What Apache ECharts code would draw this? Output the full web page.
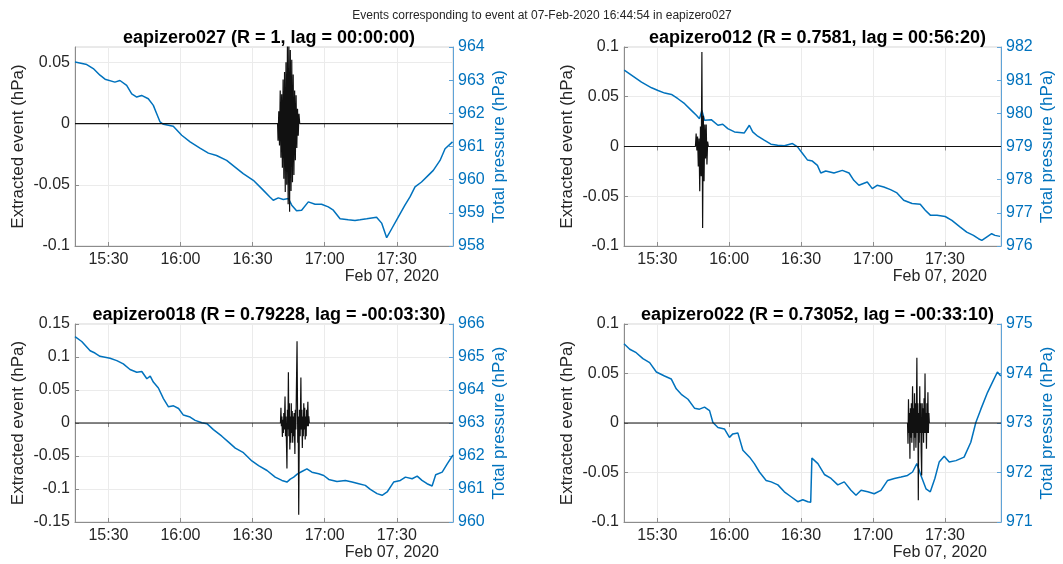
<!DOCTYPE html>
<html><head><meta charset="utf-8">
<script src="https://cdn.jsdelivr.net/npm/echarts@6/dist/echarts.min.js"></script>
<style>html,body{margin:0;padding:0;background:#fff}#c{width:1063px;height:564px}</style>
</head><body><div id="c"></div><script>
// time is minutes since midnight, 07-Feb-2020
const xMin = 916.1, xMax = 1073.4;
const xTicks = [930, 960, 990, 1020, 1050];
const suptitle = 'Events corresponding to event at 07-Feb-2020 16:44:54 in eapizero027';
const panelTitles = [
  'eapizero027 (R = 1, lag = 00:00:00)',
  'eapizero012 (R = 0.7581, lag = 00:56:20)',
  'eapizero018 (R = 0.79228, lag = -00:03:30)',
  'eapizero022 (R = 0.73052, lag = -00:33:10)'
];
const dateLabel = 'Feb 07, 2020';
const leftRanges = [[-0.1, 0.0625], [-0.1, 0.1], [-0.15, 0.15], [-0.1, 0.1]];
const leftTicks = [[-0.1, -0.05, 0, 0.05], [-0.1, -0.05, 0, 0.05, 0.1], [-0.15, -0.1, -0.05, 0, 0.05, 0.1, 0.15], [-0.1, -0.05, 0, 0.05, 0.1]];
const rightTicks = [[958, 959, 960, 961, 962, 963, 964], [976, 977, 978, 979, 980, 981, 982], [960, 961, 962, 963, 964, 965, 966], [971, 972, 973, 974, 975]];

// Total pressure (hPa)
const p027T = [916.1,921.0,923.7,926.5,928.6,932.7,934.8,937.6,939.7,941.8,943.8,946.6,948.7,950.1,951.5,952.9,957.0,960.5,964.0,968.1,971.6,975.0,979.2,982.7,986.1,990.3,993.8,997.2,998.6,1000.7,1002.8,1004.9,1006.3,1008.3,1010.4,1013.2,1016.0,1018.7,1021.5,1023.6,1026.4,1029.8,1032.6,1034.7,1037.5,1041.6,1043.7,1045.8,1047.9,1050.6,1053.4,1055.5,1057.6,1060.3,1063.1,1065.2,1068.0,1070.1,1073.2];
const p027V = [963.55,963.47,963.35,963.15,963.03,962.94,962.99,962.84,962.59,962.49,962.54,962.44,962.24,961.99,961.74,961.67,961.61,961.34,961.14,960.95,960.80,960.73,960.58,960.38,960.18,959.98,959.73,959.48,959.38,959.45,959.40,959.43,959.23,959.06,959.08,959.33,959.26,959.26,959.18,959.08,958.82,958.79,958.77,958.79,958.82,958.87,958.69,958.25,958.52,958.87,959.23,959.48,959.78,959.93,960.13,960.28,960.58,960.93,961.14];

const p012T = [916.2,919.2,923.4,927.6,930.3,933.1,935.9,938.6,941.4,944.2,946.3,947.6,948.6,949.7,952.5,955.3,957.3,959.4,962.2,966.3,968.4,969.8,971.9,974.6,977.4,980.2,983.0,986.4,988.5,990.6,992.7,994.7,996.8,998.2,1000.3,1003.7,1007.2,1010.0,1012.0,1014.1,1017.6,1019.7,1021.7,1024.5,1027.3,1030.0,1032.8,1036.3,1039.7,1041.8,1043.9,1046.7,1050.1,1052.9,1056.4,1059.1,1061.9,1064.0,1065.4,1067.4,1069.5,1070.9,1073.0];
const p012V = [981.30,981.15,980.94,980.77,980.69,980.61,980.57,980.44,980.29,980.09,979.94,979.84,980.09,979.79,979.81,979.64,979.67,979.54,979.44,979.41,979.64,979.44,979.31,979.19,979.07,979.04,979.02,979.09,978.99,978.79,978.59,978.56,978.43,978.20,978.26,978.20,978.28,978.20,977.98,977.83,977.93,977.73,977.83,977.78,977.70,977.60,977.38,977.28,977.26,977.08,976.93,976.93,976.89,976.77,976.57,976.42,976.32,976.22,976.17,976.27,976.37,976.32,976.29];

const p018T = [916.1,918.9,922.4,924.4,926.5,930.7,933.5,936.2,939.0,941.8,943.9,946.0,947.4,948.7,950.8,952.9,955.0,957.1,959.2,961.2,964.0,966.1,968.9,971.0,973.7,977.2,980.0,982.8,986.2,989.7,992.5,996.0,999.4,1002.2,1004.3,1005.7,1007.1,1008.7,1010.5,1012.6,1014.7,1017.5,1019.6,1021.7,1025.1,1028.6,1031.4,1034.2,1036.9,1039.0,1041.8,1043.9,1046.0,1048.7,1051.5,1053.6,1056.4,1058.5,1060.5,1062.6,1064.7,1066.2,1068.9,1071.0,1073.4];
const p018V = [965.62,965.47,965.19,965.12,965.02,964.96,964.89,964.79,964.62,964.54,964.56,964.34,964.42,964.24,964.06,963.74,963.49,963.52,963.44,963.24,963.18,963.08,963.01,962.98,962.80,962.60,962.42,962.24,962.10,961.85,961.71,961.56,961.36,961.26,961.21,961.30,961.36,961.46,961.53,961.61,961.51,961.46,961.41,961.29,961.23,961.26,961.21,961.16,961.11,960.99,960.86,960.81,960.91,961.21,961.26,961.36,961.31,961.39,961.26,961.16,961.09,961.43,961.51,961.76,962.03];

const p022T = [916.1,918.5,921.2,924.0,926.8,929.6,933.0,935.8,937.9,940.0,942.8,945.5,947.6,949.7,951.8,953.2,955.3,958.0,960.1,961.5,963.6,965.7,968.5,970.5,972.6,975.4,977.5,980.3,983.0,985.8,988.6,990.7,992.8,994.0,994.5,997.0,999.7,1002.5,1005.3,1008.0,1010.8,1012.9,1015.0,1017.8,1020.5,1023.3,1026.1,1028.9,1031.7,1034.4,1036.5,1038.3,1040.0,1042.1,1043.9,1045.8,1047.6,1049.7,1051.8,1054.6,1058.0,1060.8,1062.9,1065.0,1067.8,1069.8,1071.9,1073.3];
const p022V = [974.60,974.49,974.42,974.30,974.22,974.03,973.95,973.89,973.69,973.58,973.48,973.30,973.28,973.32,973.25,973.01,972.91,972.88,972.71,972.78,972.80,972.45,972.31,972.18,972.01,971.84,971.81,971.75,971.61,971.51,971.41,971.45,971.41,971.40,972.29,972.18,971.96,971.88,971.75,971.81,971.64,971.54,971.64,971.61,971.57,971.64,971.84,971.88,971.91,971.94,972.01,972.18,971.94,971.67,971.61,971.88,972.21,972.33,972.21,972.24,972.31,972.61,973.01,973.28,973.62,973.82,974.03,973.95];

// Extracted event (hPa)
const e027T = [916.1,1000.4,1000.6,1000.9,1001.2,1001.5,1001.8,1002.1,1002.4,1002.7,1003.0,1003.3,1003.6,1003.9,1004.2,1004.5,1004.8,1005.1,1005.4,1005.7,1006.0,1006.3,1006.6,1006.9,1007.2,1007.5,1007.8,1008.1,1008.4,1008.7,1009.0,1009.3,1009.6,1073.4];
const e027V = [0,0,-0.014,0.010,-0.018,0.027,-0.028,0.024,-0.036,0.036,-0.045,0.042,-0.056,0.050,-0.050,0.064,-0.066,0.066,-0.072,0.060,-0.055,0.052,-0.048,0.040,-0.042,0.027,-0.030,0.023,-0.020,0.012,-0.010,0.008,0,0];

const e012T = [916.1,945.9,946.2,946.5,946.8,947.1,947.4,947.7,948.0,948.3,948.6,948.9,949.2,949.5,949.8,950.1,950.4,950.7,951.0,951.3,1073.4];
const e012V = [0,0,0.013,-0.004,0.010,-0.020,0.008,-0.045,0.020,-0.030,0.095,-0.082,0.031,-0.035,0.022,-0.012,0.022,-0.018,0.005,0,0];

const e018T = [916.1,1001.6,1001.8,1002.0,1002.2,1002.4,1002.6,1002.8,1003.0,1003.2,1003.5,1003.7,1003.9,1004.1,1004.3,1004.5,1004.7,1004.9,1005.1,1005.3,1005.5,1005.7,1005.9,1006.1,1006.3,1006.5,1006.7,1006.9,1007.1,1007.3,1007.6,1007.8,1008.0,1008.2,1008.5,1008.8,1009.0,1009.2,1009.5,1009.8,1010.1,1010.3,1010.5,1010.7,1010.9,1011.1,1011.3,1011.5,1011.7,1011.9,1012.1,1012.3,1012.5,1012.7,1013.0,1013.2,1013.4,1013.6,1073.4];
const e018V = [0,0,0.023,-0.005,0.010,-0.021,0.005,-0.015,0.015,-0.010,0.040,-0.020,0.010,-0.030,-0.069,0.020,-0.010,0.077,-0.020,0.030,-0.040,0.010,-0.030,0.030,-0.015,0.018,-0.030,0.010,-0.020,0.015,-0.047,0.020,-0.010,0.040,0.124,-0.030,0.010,-0.139,0.020,-0.020,0.069,-0.010,0.020,-0.038,0.010,-0.020,0.030,-0.010,0.023,-0.025,0.010,-0.020,0.020,-0.005,0.032,-0.005,0.010,0,0];

const e022T = [916.1,1034.4,1034.6,1034.8,1035.0,1035.2,1035.4,1035.6,1035.8,1036.0,1036.2,1036.5,1036.7,1036.9,1037.1,1037.3,1037.5,1037.7,1037.9,1038.1,1038.3,1038.5,1038.7,1038.9,1039.1,1039.3,1039.5,1039.7,1039.9,1040.1,1040.3,1040.5,1040.7,1040.9,1041.1,1041.3,1041.5,1041.7,1041.9,1042.1,1042.3,1042.5,1042.7,1042.9,1043.1,1043.3,1043.5,1073.4];
const e022V = [0,0,-0.021,0.024,-0.010,0.010,-0.036,0.015,-0.015,0.020,-0.020,0.037,-0.010,0.015,-0.028,0.030,-0.015,0.020,-0.025,0.010,0.066,-0.010,0.020,-0.078,0.010,-0.020,0.037,-0.010,0.020,-0.030,-0.053,0.020,-0.010,0.015,-0.020,0.025,-0.010,0.050,-0.010,0.010,-0.026,0.020,-0.010,0.031,-0.010,0.010,0,0];

const pressure = [[p027T, p027V], [p012T, p012V], [p018T, p018V], [p022T, p022V]];
const events = [[e027T, e027V], [e012T, e012V], [e018T, e018V], [e022T, e022V]];

const FONT = '"Liberation Sans", Arial, Helvetica, sans-serif';
const DARK = '#262626';
const BLUE = '#0072BD';
const zip = (a, b) => a.map((t, i) => [t, b[i]]);
const fmtTime = m => { const h = Math.floor(m / 60), mm = Math.round(m - h * 60); return h + ':' + (mm < 10 ? '0' : '') + mm; };
const fmtNum = v => (Math.abs(v) < 1e-9 ? '0' : String(+v.toFixed(4)));

const grids = [
  {left: 75, top: 47, width: 378, height: 199},
  {left: 624, top: 47, width: 377, height: 199},
  {left: 75, top: 324, width: 378, height: 198},
  {left: 624, top: 324, width: 377, height: 198}
];
const option = {
  animation: false,
  backgroundColor: '#fff',
  textStyle: {fontFamily: FONT},
  title: [{text: suptitle, left: 537, top: 5, textAlign: 'center', textStyle: {fontSize: 12, fontWeight: 'normal', color: DARK, fontFamily: FONT}}],
  grid: [], xAxis: [], yAxis: [], series: [], graphic: []
};
grids.forEach((g, i) => {
  option.grid.push(Object.assign({show: true, borderColor: '#d4d4d4', borderWidth: 1, backgroundColor: '#fff'}, g));
  option.title.push({text: panelTitles[i], left: g.left + g.width / 2, top: g.top - 23, textAlign: 'center',
    textStyle: {fontSize: 18, fontWeight: 'bold', color: '#000', fontFamily: FONT}});
  option.xAxis.push({type: 'value', gridIndex: i, min: xMin, max: xMax, position: 'bottom',
    axisLine: {show: true, onZero: false, lineStyle: {color: '#8c8c8c', width: 1}},
    axisTick: {show: true, inside: true, length: 4, customValues: xTicks, lineStyle: {color: '#8c8c8c'}},
    axisLabel: {customValues: xTicks, formatter: fmtTime, color: DARK, fontSize: 16, margin: 6, fontFamily: FONT},
    splitLine: {show: true, lineStyle: {color: '#ebebeb', width: 1}}});
  option.xAxis.push({type: 'value', gridIndex: i, min: xMin, max: xMax, position: 'top',
    axisLine: {show: false},
    axisTick: {show: true, inside: true, length: 4, customValues: xTicks, lineStyle: {color: '#8c8c8c'}},
    axisLabel: {show: false}, splitLine: {show: false}});
  option.yAxis.push({type: 'value', gridIndex: i, position: 'left', min: leftRanges[i][0], max: leftRanges[i][1],
    name: 'Extracted event (hPa)', nameLocation: 'middle', nameGap: 48,
    nameTextStyle: {color: DARK, fontSize: 17, fontFamily: FONT},
    axisLine: {show: true, onZero: false, lineStyle: {color: '#8c8c8c', width: 1}},
    axisTick: {show: true, inside: true, length: 4, customValues: leftTicks[i], lineStyle: {color: '#8c8c8c'}},
    axisLabel: {customValues: leftTicks[i], formatter: fmtNum, color: DARK, fontSize: 16, margin: 5, fontFamily: FONT},
    splitLine: {show: true, lineStyle: {color: '#ebebeb', width: 1}}});
  const rt = rightTicks[i];
  option.yAxis.push({type: 'value', gridIndex: i, position: 'right', min: rt[0], max: rt[rt.length - 1],
    name: 'Total pressure (hPa)', nameLocation: 'middle', nameGap: 38,
    nameTextStyle: {color: BLUE, fontSize: 17, fontFamily: FONT},
    axisLine: {show: true, onZero: false, lineStyle: {color: '#5fa3d8', width: 1}},
    axisTick: {show: true, inside: true, length: 4, customValues: rt, lineStyle: {color: '#5fa3d8'}},
    axisLabel: {customValues: rt, color: BLUE, fontSize: 16, margin: 5, fontFamily: FONT},
    splitLine: {show: false}});
  option.series.push({type: 'line', xAxisIndex: 2 * i, yAxisIndex: 2 * i + 1, data: zip(pressure[i][0], pressure[i][1]),
    showSymbol: false, symbol: 'none', lineStyle: {color: BLUE, width: 1.5}, z: 2});
  option.series.push({type: 'line', xAxisIndex: 2 * i, yAxisIndex: 2 * i, data: zip(events[i][0], events[i][1]),
    showSymbol: false, symbol: 'none', lineStyle: {color: '#111', width: 1.2}, z: 3});
  option.graphic.push({type: 'text', right: 1063 - (g.left + g.width - 14), top: g.top + g.height + 23,
    style: {text: dateLabel, fill: DARK, font: '16px ' + FONT, textAlign: 'right'}});
});
const chart = echarts.init(document.getElementById('c'), null, {renderer: 'canvas'});
chart.setOption(option);
</script></body></html>
